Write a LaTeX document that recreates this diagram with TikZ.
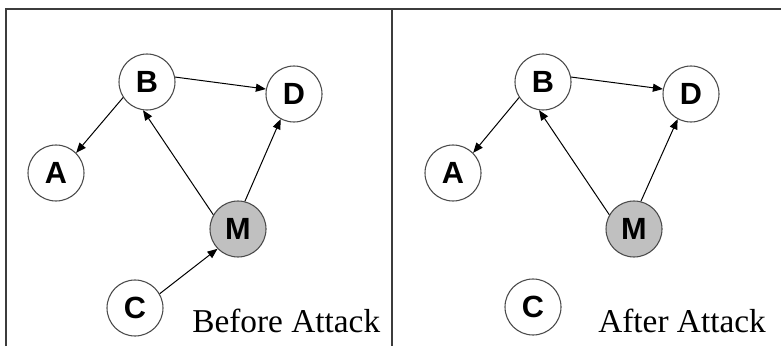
\documentclass[tikz,border=0pt]{standalone}
\usepackage{fontspec}
\setmainfont{Liberation Serif}
\setsansfont{Liberation Sans}
\usepackage{tikz}
\usetikzlibrary{arrows.meta}
\definecolor{atkline}{HTML}{3C3C3C}
\definecolor{atkring}{HTML}{4A4A4A}
\definecolor{atkgrey}{HTML}{C0C0C0}

\begin{document}
\begin{tikzpicture}[x=0.75pt, y=-0.75pt,
  peer/.style={circle, draw=atkring, fill=white, line width=0.8pt, minimum size=42pt, inner sep=0pt,
    font=\sffamily\bfseries\fontsize{23}{26}\selectfont},
  mal/.style={peer, fill=atkgrey},
  link/.style={-{Triangle[length=7.5pt, width=6pt]}, line width=0.75pt, draw=black},
  panel/.style={line width=1.2pt, draw=atkline},
  tag/.style={anchor=base west, inner sep=0pt, font=\rmfamily\fontsize{25}{28}\selectfont}
]
\useasboundingbox (0,0) rectangle (781,346);
% ================= panel rules =================
\draw[panel] (6,346) -- (6,9) -- (781,9);
\draw[panel] (392,9) -- (392,346);
% ================= before the attack =================
\node[peer] (preB) at (147,82) {B};
\node[peer] (preD) at (294,94) {D};
\node[peer] (preA) at (56,173) {A};
\node[mal]  (preM) at (238,229) {M};
\node[peer] (preC) at (135,308) {C};
\node[tag]  (preTag) at (192,332) {Before Attack};
\draw[link] (preB.10) -- (preD.170);
\draw[link] (preB.213) -- (preA.45);
\draw[link] (preM.150) -- (preB.262);
\draw[link] (preM.76) -- (preD.242);
\draw[link] (preC.30) -- (preM.224);
% ================= after the attack: C is cut off =================
\node[peer] (postB) at (543,82) {B};
\node[peer] (postD) at (691,94) {D};
\node[peer] (postA) at (453,173) {A};
\node[mal]  (postM) at (634,229) {M};
\node[peer] (postC) at (533,307) {C};
\node[tag]  (postTag) at (598,332) {After Attack};
\draw[link] (postB.10) -- (postD.170);
\draw[link] (postB.213) -- (postA.45);
\draw[link] (postM.150) -- (postB.262);
\draw[link] (postM.76) -- (postD.242);
\end{tikzpicture}
\end{document}
